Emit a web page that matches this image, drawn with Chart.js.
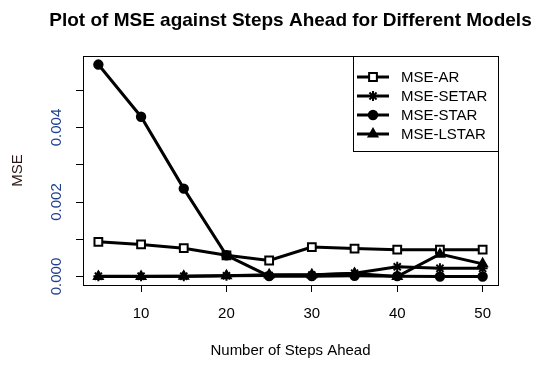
<!DOCTYPE html>
<html>
<head>
<meta charset="utf-8">
<script src="https://cdn.jsdelivr.net/npm/chart.js@4.4.1/dist/chart.umd.min.js"></script>
<style>
    html, body { margin: 0; padding: 0; background: #fff; }
    canvas { display: block; }
</style>
</head>
<body>
<canvas id="mseChart" width="537" height="368"></canvas>
<script>
(function () {
    "use strict";

    // Data
    const steps = [5, 10, 15, 20, 25, 30, 35, 40, 45, 50];
    const mseAR = [0.00093, 0.00086, 0.00076, 0.00057, 0.00043, 0.00079, 0.00075, 0.00072, 0.00072, 0.00072];
    const mseSETAR = [0.00001, 0.00001, 0.00001, 0.00002, 0.00003, 0.00004, 0.00009, 0.00026, 0.00022, 0.00022];
    const mseSTAR = [0.00569, 0.00429, 0.00236, 0.00057, 0.00001, 0.00001, 0.00002, 0.00001, 0.0, 0.0];
    const mseLSTAR = [0.0, 0.0, 0.00001, 0.00002, 0.00005, 0.00005, 0.00008, 0.0, 0.0006, 0.00034];

    const xTicks = [10, 20, 30, 40, 50];
    const yTicks = [0, 0.001, 0.002, 0.003, 0.004, 0.005];
    const yLabelled = ["0.000", "", "0.002", "", "0.004", ""];

    const FONT = "'Liberation Sans', Arial, sans-serif";

    function series(label, values, style, fill, radius, order) {
        return {
            label: label,
            data: steps.map((s, i) => ({ x: s, y: values[i] })),
            borderColor: "#000",
            borderWidth: 3,
            backgroundColor: "#000",
            pointStyle: style,
            pointRadius: radius,
            pointBackgroundColor: fill,
            pointBorderColor: "#000",
            pointBorderWidth: 2,
            tension: 0,
            fill: false,
            order: order,
        };
    }

    // box, title and legend, R style
    const rDecor = {
        id: "rDecor",
        afterDraw(chart) {
            const ctx = chart.ctx;
            const a = chart.chartArea;
            ctx.save();
            ctx.strokeStyle = "#000";
            ctx.lineWidth = 1;
            ctx.strokeRect(Math.round(a.left) + 0.5, Math.round(a.top) + 0.5,
                Math.round(a.right - a.left), Math.round(a.bottom - a.top));

            ctx.fillStyle = "#000";
            ctx.font = "bold 19px " + FONT;
            ctx.textAlign = "center";
            ctx.textBaseline = "alphabetic";
            ctx.fillText("Plot of MSE against Steps Ahead for Different Models",
                (a.left + a.right) / 2, 25.5);

            // legend
            const lx = 353, ly = Math.round(a.top), lw = Math.round(a.right) - lx, lh = 95;
            ctx.fillStyle = "#fff";
            ctx.fillRect(lx, ly, lw, lh);
            ctx.strokeRect(lx + 0.5, ly + 0.5, lw, lh);
            ctx.font = "15px " + FONT;
            ctx.textAlign = "left";
            ctx.textBaseline = "middle";
            chart.data.datasets.forEach((ds, i) => {
                const y = 77 + i * 19;
                ctx.strokeStyle = "#000";
                ctx.lineWidth = 3;
                ctx.beginPath();
                ctx.moveTo(357, y);
                ctx.lineTo(389, y);
                ctx.stroke();
                ctx.lineWidth = ds.pointBorderWidth;
                ctx.fillStyle = ds.pointBackgroundColor;
                Chart.helpers.drawPoint(ctx, {
                    pointStyle: ds.pointStyle,
                    radius: ds.pointRadius,
                    rotation: 0,
                    borderWidth: ds.pointBorderWidth,
                }, 373, y);
                ctx.fillStyle = "#000";
                ctx.fillText(ds.label, 401, y + 1);
            });
            ctx.restore();
        },
    };

    const ctx = document.getElementById("mseChart").getContext("2d");

    new Chart(ctx, {
        type: "line",
        data: {
            datasets: [
                series("MSE-AR", mseAR, "rect", "#fff", 5.5, 3),
                series("MSE-SETAR", mseSETAR, "star", "#000", 5, 2),
                series("MSE-STAR", mseSTAR, "circle", "#000", 4.2, 1),
                series("MSE-LSTAR", mseLSTAR, "triangle", "#000", 5, 0),
            ],
        },
        options: {
            responsive: false,
            animation: false,
            devicePixelRatio: 1,
            layout: {
                padding: { top: 56, right: 39, bottom: 0, left: 0 },
            },
            plugins: {
                legend: { display: false },
                tooltip: { enabled: false },
                title: { display: false },
            },
            scales: {
                x: {
                    type: "linear",
                    min: 3.2,
                    max: 51.8,
                    afterBuildTicks: (s) => { s.ticks = xTicks.map((v) => ({ value: v })); },
                    afterFit: (s) => { s.height = 83; },
                    ticks: {
                        color: "#000",
                        font: { family: FONT, size: 15 },
                        padding: 13,
                        maxRotation: 0,
                        callback: (v) => String(v),
                    },
                    grid: {
                        drawOnChartArea: false,
                        drawTicks: true,
                        tickLength: 7,
                        tickColor: "#000",
                        tickWidth: 1,
                    },
                    border: { display: false },
                    title: {
                        display: true,
                        text: "Number of Steps Ahead",
                        color: "#000",
                        font: { family: FONT, size: 15 },
                        padding: { top: 0, bottom: 8 },
                    },
                },
                y: {
                    type: "linear",
                    min: -0.000228,
                    max: 0.00592,
                    afterBuildTicks: (s) => { s.ticks = yTicks.map((v) => ({ value: v })); },
                    afterFit: (s) => { s.width = 83; },
                    ticks: {
                        color: "#1f3f8f",
                        font: { family: FONT, size: 15 },
                        minRotation: 90,
                        maxRotation: 90,
                        crossAlign: "center",
                        padding: 0,
                        callback: (v) => {
                            const i = yTicks.findIndex((t) => Math.abs(t - v) < 1e-9);
                            return i >= 0 ? yLabelled[i] : "";
                        },
                    },
                    grid: {
                        drawOnChartArea: false,
                        drawTicks: true,
                        tickLength: 7,
                        tickColor: "#000",
                        tickWidth: 1,
                    },
                    border: { display: false },
                    title: {
                        display: true,
                        text: "MSE",
                        color: "#2a1515",
                        font: { family: FONT, size: 15 },
                        padding: { top: 9, bottom: 0 },
                    },
                },
            },
        },
        plugins: [rDecor],
    });
})();
</script>
</body>
</html>
